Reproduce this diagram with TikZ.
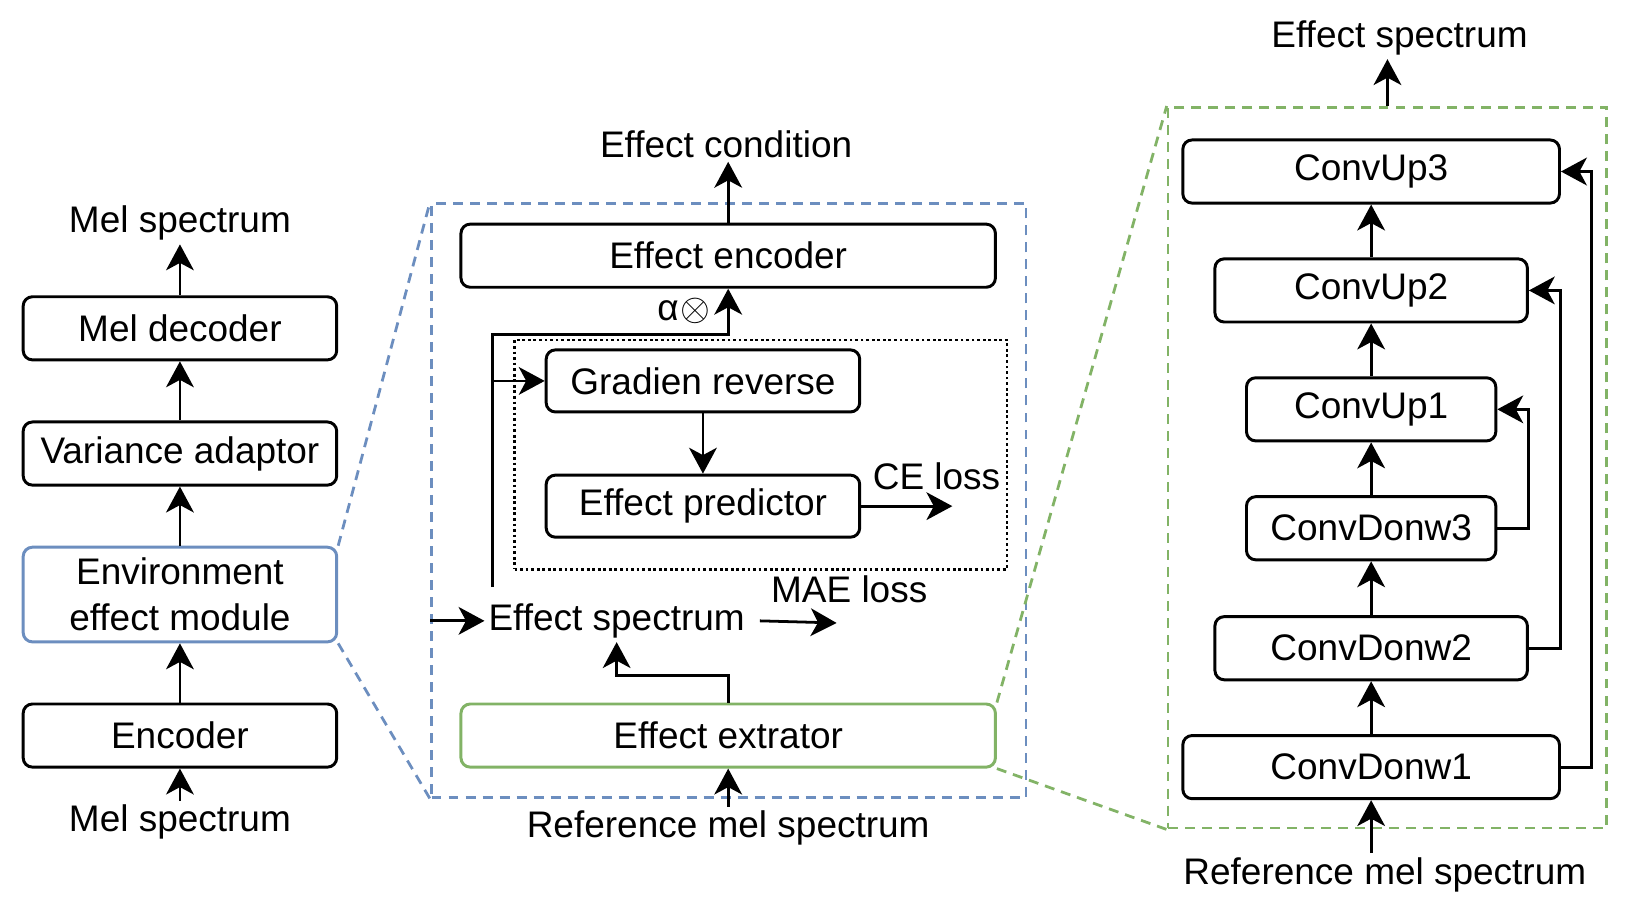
\documentclass[tikz,border=0pt]{standalone}
\usepackage{fontspec}
\setmainfont{Liberation Sans}
\usetikzlibrary{arrows.meta}
\definecolor{frameblue}{HTML}{6C8EBF}
\definecolor{framegreen}{HTML}{82B366}
\tikzstyle{block} = [draw, rounded corners=5pt, line width=1.6pt, minimum height=1.2cm, inner sep=2pt]
\tikzstyle{txt} = [inner sep=2pt]
\tikzstyle{zoomframe} = [draw, dash pattern=on 5.4pt off 3.8pt, line width=1.5pt, inner sep=0pt]
\tikzstyle{zoomline} = [dash pattern=on 5.4pt off 3.8pt, line width=1.5pt]
\tikzstyle{flow} = [-{Stealth[length=14pt, width=15pt, inset=4pt]}, line width=1.5pt]

\begin{document}
\begin{tikzpicture}[x=0.02cm, y=-0.02cm, font=\fontsize{20}{25}\selectfont]
      \useasboundingbox (0,0) rectangle (1568,853.4);
      % frames of the zoomed parts
      \node[zoomframe, draw=frameblue, minimum width=11.3cm, minimum height=11.3cm] (midframe) at (692.5,475.5) {};
      \node[zoomframe, draw=framegreen, minimum width=8.34cm, minimum height=13.7cm] (rightframe) at (1318.5,444.5) {};
      \node[draw, dash pattern=on 1.5pt off 1.5pt, line width=1.4pt, minimum width=9.36cm, minimum height=4.36cm] (advbox) at (723,432) {};
      % acoustic model
      \node[txt] (melout) at (171,212) {Mel spectrum};
      \node[block, minimum width=5.96cm] (meldec) at (171,312) {Mel decoder};
      \node[block, minimum width=5.96cm] (varad) at (171,431) {Variance adaptor};
      \node[block, draw=frameblue, minimum width=5.96cm, minimum height=1.8cm, align=center] (envmod) at (171,565) {Environment\\effect module};
      \node[block, minimum width=5.96cm] (enc) at (171,699) {Encoder};
      \node[txt] (melin) at (171,781) {Mel spectrum};
      \draw[flow] (melin) -- (enc);
      \draw[flow] (enc) -- (envmod);
      \draw[flow] (envmod) -- (varad);
      \draw[flow] (varad) -- (meldec);
      \draw[flow] (meldec) -- (melout);
      % environment effect module
      \node[txt] (effcond) at (690,137) {Effect condition};
      \node[block, minimum width=10.16cm] (effenc) at (692,243) {Effect encoder};
      \node[txt] (alpha) at (650,295) {α\kern1pt$\otimes$};
      \node[block, minimum width=5.96cm, minimum height=1.18cm] (gradrev) at (668,362) {Gradien reverse};
      \node[block, minimum width=5.96cm, minimum height=1.18cm] (effpred) at (668,481) {Effect predictor};
      \node[txt] (celoss) at (890,453) {CE loss};
      \node[txt] (maeloss) at (807,560) {MAE loss};
      \node[txt] (effspec) at (586,590) {Effect spectrum};
      \node[block, draw=framegreen, minimum width=10.16cm] (effext) at (692,699) {Effect extrator};
      \node[txt] (refmel) at (692,787) {Reference mel spectrum};
      \coordinate (split) at (468,558);
      \coordinate (turn) at (468,318);
      \coordinate (ceend) at (905,481);
      \coordinate (maeend) at (795,592);
      \draw[flow] (effenc.north) -- (effenc.north |- effcond.south);
      \draw[flow] (split) -- (turn) -| (effenc.south);
      \draw[flow] (split |- gradrev) -- (gradrev);
      \draw[flow] (gradrev) -- (effpred);
      \draw[flow] (effpred) -- (ceend);
      \draw[flow] (midframe.west |- effspec) -- (effspec);
      \draw[flow] ([xshift=6pt]effspec.east) -- (maeend);
      \draw[flow] (effext.north) -- ++(0,-26) -| (effspec.south);
      \draw[flow] (refmel) -- (effext);
      % effect extrator
      \node[txt] (effout) at (1330,36) {Effect spectrum};
      \node[block, minimum width=7.16cm] (up3) at (1303,163) {ConvUp3};
      \node[block, minimum width=5.94cm] (up2) at (1303,276) {ConvUp2};
      \node[block, minimum width=4.74cm] (up1) at (1303,389) {ConvUp1};
      \node[block, minimum width=4.74cm] (dn3) at (1303,502) {ConvDonw3};
      \node[block, minimum width=5.94cm] (dn2) at (1303,616) {ConvDonw2};
      \node[block, minimum width=7.16cm] (dn1) at (1303,729) {ConvDonw1};
      \node[txt] (refmel2) at (1316,831) {Reference mel spectrum};
      \draw[flow] (dn1.south |- refmel2.north) -- (dn1);
      \draw[flow] (dn1) -- (dn2);
      \draw[flow] (dn2) -- (dn3);
      \draw[flow] (dn3) -- (up1);
      \draw[flow] (up1) -- (up2);
      \draw[flow] (up2) -- (up3);
      \draw[flow] (rightframe.north) -- (rightframe.north |- effout.south);
      \draw[flow] (dn3.east) -- ++(30,0) |- (up1.east);
      \draw[flow] (dn2.east) -- ++(30,0) |- (up2.east);
      \draw[flow] (dn1.east) -- ++(29,0) |- (up3.east);
      % zoom lines
      \draw[zoomline, draw=frameblue] (envmod.north east) -- (midframe.north west);
      \draw[zoomline, draw=frameblue] (envmod.south east) -- (midframe.south west);
      \draw[zoomline, draw=framegreen] (effext.north east) -- (rightframe.north west);
      \draw[zoomline, draw=framegreen] (effext.south east) -- (rightframe.south west);
    \end{tikzpicture}
\end{document}
